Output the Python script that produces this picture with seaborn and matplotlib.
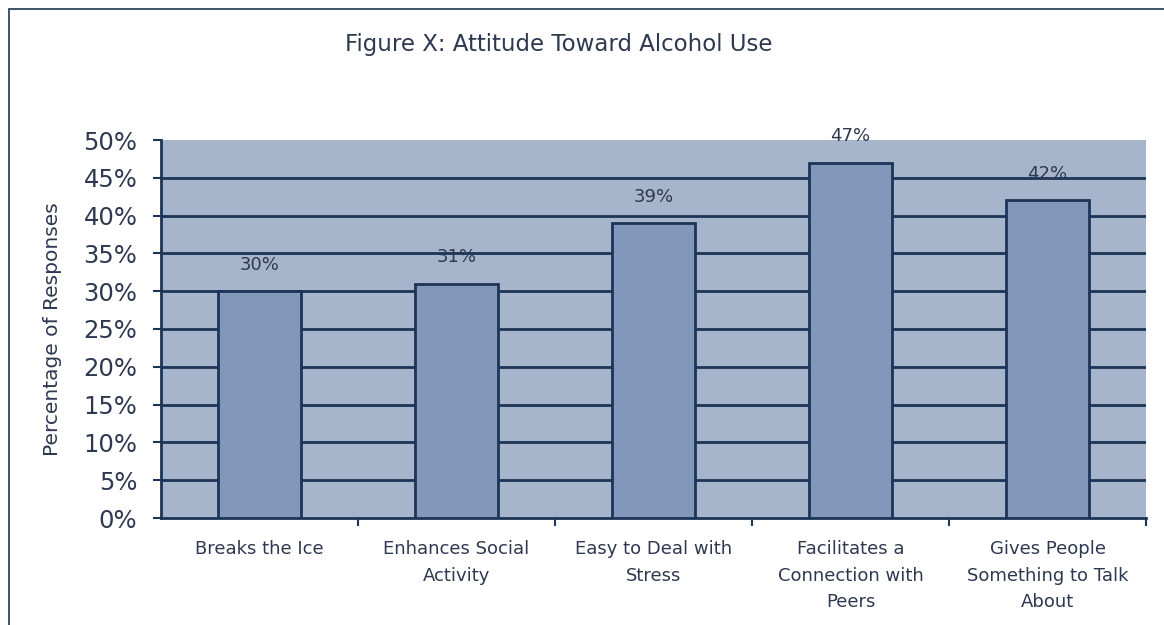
import matplotlib
matplotlib.use("Agg")
import matplotlib.pyplot as plt
import matplotlib.patches as mpatches
import seaborn as sns
import pandas as pd

# Survey responses
categories = [
    "Breaks the Ice",
    "Enhances Social\nActivity",
    "Easy to Deal with\nStress",
    "Facilitates a\nConnection with\nPeers",
    "Gives People\nSomething to Talk\nAbout",
]
values = [30, 31, 39, 47, 42]
y_ticks = [0, 5, 10, 15, 20, 25, 30, 35, 40, 45, 50]

df = pd.DataFrame({"category": categories, "pct": values})

sns.set_style("white")
plt.rcParams["font.family"] = ["DejaVu Sans"]

text_color = "#2e3850"
grid_color = "#1c3457"
bg_color = "#a7b5cc"
bar_color = "#8298ba"

fig = plt.figure(figsize=(11.64, 6.25), dpi=100)
fig.patch.set_facecolor("white")

# outer frame
fig.add_artist(mpatches.Rectangle((9 / 1164, -0.05), 1.2, 1 - 9 / 625 + 0.05,
                                  transform=fig.transFigure, fill=False,
                                  edgecolor="#1f3550", linewidth=1.2))

ax = fig.add_axes([161 / 1164, 1 - 518 / 625, (1146 - 161) / 1164, (518 - 140) / 625])
ax.set_facecolor(bg_color)

for t in y_ticks[1:-1]:
    ax.axhline(t, color=grid_color, linewidth=2.0, zorder=1)

sns.barplot(data=df, x="category", y="pct", color=bar_color, width=0.42,
            edgecolor=grid_color, linewidth=2, saturation=1, ax=ax, zorder=3)

for i, v in enumerate(values):
    ax.text(i, v + 3.5, f"{v}%", ha="center", va="center", fontsize=13,
            color=text_color, zorder=4)

ax.set_xlim(-0.5, len(categories) - 0.5)
ax.set_ylim(0, 50)
ax.set_yticks(y_ticks)
ax.set_yticklabels([f"{t}%" for t in y_ticks], fontsize=17.5, color=text_color)
ax.tick_params(axis="y", length=6, width=1.5, color=grid_color, pad=11, left=True)

ax.set_xticks(range(len(categories)))
ax.set_xticklabels(categories, fontsize=13, color=text_color, linespacing=1.6)
ax.tick_params(axis="x", length=0, pad=16)
ax.set_xticks([i + 0.5 for i in range(len(categories))], minor=True)
ax.tick_params(axis="x", which="minor", length=6, width=1.5, color=grid_color, bottom=True)

ax.set_xlabel("")
ax.set_ylabel("Percentage of Responses", fontsize=14.5, color=text_color)
ax.yaxis.set_label_coords(-(161 - 62) / 985, 0.5)

for side in ["top", "right"]:
    ax.spines[side].set_visible(False)
for side in ["left", "bottom"]:
    ax.spines[side].set_color(grid_color)
    ax.spines[side].set_linewidth(2)

fig.text(559 / 1164, 1 - 44 / 625, "Figure X: Attitude Toward Alcohol Use",
         ha="center", va="center", fontsize=16.5, color=text_color)

fig.savefig("out.png", dpi=100, facecolor="white")
